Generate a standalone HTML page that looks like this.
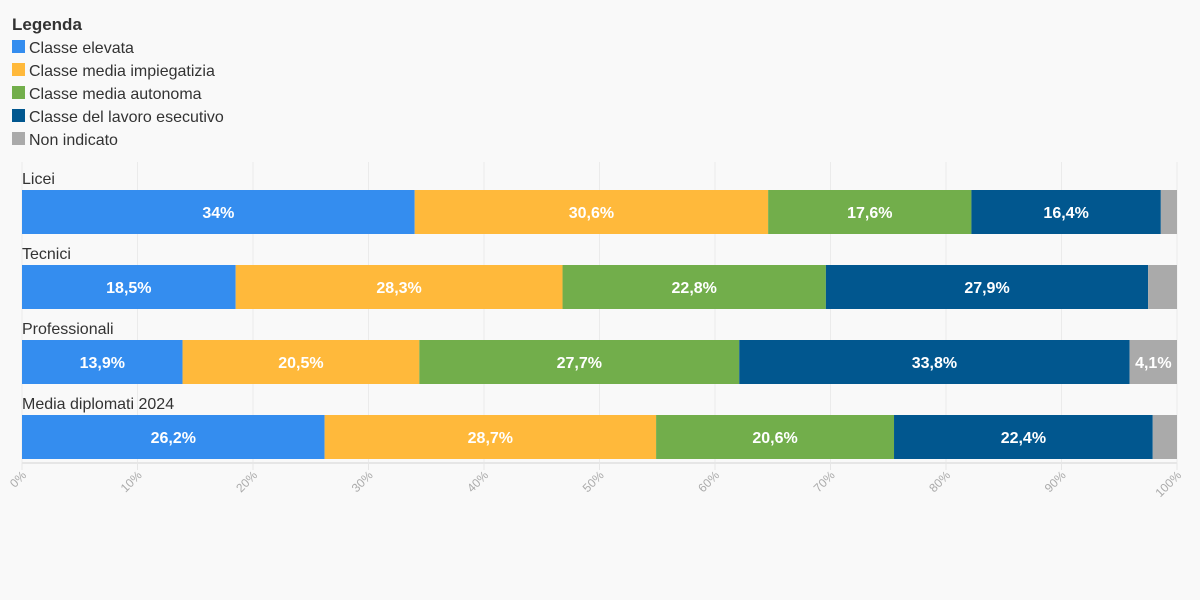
<!DOCTYPE html>
<html><head><meta charset="utf-8"><style>
body{margin:0;background:#f9f9f9;font-family:"Liberation Sans",sans-serif;}
svg{display:block}
</style></head><body>
<svg width="1200" height="600" xmlns="http://www.w3.org/2000/svg">
<rect width="1200" height="600" fill="#f9f9f9"/>
<g id="legend"></g>
<g id="grid"></g>
<g id="bars"></g>
<g id="axis"></g>
</svg>
<script>
const categories=["Licei","Tecnici","Professionali","Media diplomati 2024"];
const seriesNames=["Classe elevata","Classe media impiegatizia","Classe media autonoma","Classe del lavoro esecutivo","Non indicato"];
const elevata=[34,18.5,13.9,26.2];
const impiegatizia=[30.6,28.3,20.5,28.7];
const autonoma=[17.6,22.8,27.7,20.6];
const esecutivo=[16.4,27.9,33.8,22.4];
const nonIndicato=[1.4,2.5,4.1,2.1];
const ticks=[0,10,20,30,40,50,60,70,80,90,100];
const colors=["#348def","#ffb93b","#72ae4b","#01578f","#aaaaaa"];
const series=[elevata,impiegatizia,autonoma,esecutivo,nonIndicato];
const NS="http://www.w3.org/2000/svg";
const X0=22,X1=1177;
const x=v=>X0+(X1-X0)*v/100;
const rowY=i=>190+i*75;
function mk(tag,attrs,parent,text){const e=document.createElementNS(NS,tag);for(const k in attrs)e.setAttribute(k,attrs[k]);if(text!==undefined)e.textContent=text;parent.appendChild(e);return e;}
const lg=document.getElementById('legend');
const t0=mk('text',{x:12,y:30,'font-size':17,'font-weight':'bold',fill:'#333'},lg,'Legenda');


seriesNames.forEach((n,i)=>{
 const g=mk('g',{},lg);
 
 
 mk('rect',{x:12,y:40+i*23,width:13,height:13,fill:colors[i]},g);
 mk('text',{x:29,y:53+i*23,'font-size':16,fill:'#333'},g,n);
});
const gr=document.getElementById('grid');
ticks.forEach(t=>{
 const l=mk('line',{x1:x(t),x2:x(t),y1:162,y2:463,stroke:'#ebebeb','stroke-width':1},gr);
 
 
});
const ax=document.getElementById('axis');
mk('line',{x1:X0,x2:X1,y1:463,y2:463,stroke:'#e6e6e6','stroke-width':2},ax);
ticks.forEach(t=>{
 mk('line',{x1:x(t),x2:x(t),y1:463,y2:470,stroke:'#e6e6e6'},ax);
 const tx=mk('text',{x:x(t)+5,y:476,'font-size':12,fill:'#aaa','text-anchor':'end',transform:`rotate(-45 ${x(t)+5} 476)`},ax,t+'%');
 
 
});
const bg=document.getElementById('bars');
categories.forEach((c,i)=>{
 const y=rowY(i);
 const lab=mk('text',{x:22,y:y-6,'font-size':16,fill:'#333'},bg,c);
 
 
 let acc=0;
 series.forEach((s,j)=>{
  const v=s[i];
  const r=mk('rect',{x:x(acc),y:y,width:x(acc+v)-x(acc),height:44,fill:colors[j]},bg);
  
  
  if(v>=3.5){
   const tx=mk('text',{x:(x(acc)+x(acc+v))/2,y:y+28,'font-size':16,'font-weight':'bold',fill:'#fff','text-anchor':'middle'},bg,String(v).replace('.',',')+'%');
   
   
  }
  acc+=v;
 });
});
</script>
</body></html>
